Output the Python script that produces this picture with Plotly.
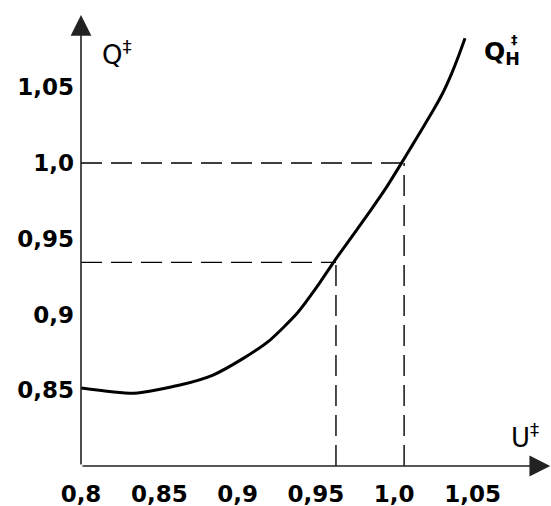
import plotly.graph_objects as go

# Curve Q*_н(U*)
u_vals = [0.800, 0.8338, 0.8632, 0.8843, 0.9036, 0.9207, 0.9377, 0.9505, 0.9622,
          0.9739, 0.9846, 0.9952, 1.0048, 1.0112, 1.0176, 1.0250, 1.0314, 1.0367,
          1.0412, 1.0452]
q_vals = [0.8514, 0.8479, 0.8534, 0.8600, 0.8710, 0.8831, 0.9004, 0.9180, 0.9359,
          0.9527, 0.9683, 0.9843, 1.0003, 1.0112, 1.0222, 1.0350, 1.0471, 1.0592,
          1.0710, 1.0824]

# Guide (dashed) points: (U*, Q*)
guide_u = [0.9628, 1.0063]
guide_q = [0.9344, 1.0]

x_ticks = [0.80, 0.85, 0.90, 0.95, 1.00, 1.05]
x_labels = ["0,8", "0,85", "0,9", "0,95", "1,0", "1,05"]
y_ticks = [0.85, 0.90, 0.95, 1.00, 1.05]
y_labels = ["0,85", "0,9", "0,95", "1,0", "1,05"]

X_RANGE = [0.8, 1.1001]
Y_RANGE = [0.7999, 1.1077]
FONT = "DejaVu Sans"

fig = go.Figure()

fig.add_trace(go.Scatter(x=u_vals, y=q_vals, mode="lines",
                         line=dict(color="black", width=3, shape="spline", smoothing=0.6),
                         hoverinfo="skip", showlegend=False))

dash = dict(color="black", width=1.4, dash="21px,9px")
for gu, gq in zip(guide_u, guide_q):
    fig.add_trace(go.Scatter(x=[X_RANGE[0], gu], y=[gq, gq], mode="lines", line=dash,
                             hoverinfo="skip", showlegend=False))
    fig.add_trace(go.Scatter(x=[gu, gu], y=[Y_RANGE[0], gq], mode="lines", line=dash,
                             hoverinfo="skip", showlegend=False))

# axes with arrows
fig.add_annotation(x=X_RANGE[1] - 0.0005, y=Y_RANGE[0], ax=X_RANGE[0], ay=Y_RANGE[0],
                   xref="x", yref="y", axref="x", ayref="y", text="",
                   showarrow=True, arrowhead=2, arrowsize=2.6, arrowwidth=1.6, arrowcolor="#222")
fig.add_annotation(x=X_RANGE[0], y=1.0978, ax=X_RANGE[0], ay=Y_RANGE[0],
                   xref="x", yref="y", axref="x", ayref="y", text="",
                   showarrow=True, arrowhead=2, arrowsize=2.6, arrowwidth=1.6, arrowcolor="#222")

lab = dict(family=FONT, size=26, color="black")
fig.add_annotation(x=0.8121, y=1.073, xref="x", yref="y", text="Q<sup>‡</sup>",
                   showarrow=False, xanchor="left", yanchor="middle", font=lab)
fig.add_annotation(x=1.0560, y=1.073, xref="x", yref="y", text="Q<sub>Н</sub>",
                   showarrow=False, xanchor="left", yanchor="middle",
                   font=dict(family=FONT, size=25, color="black", weight="bold"))
fig.add_annotation(x=1.0765, y=1.0819, xref="x", yref="y", text="‡",
                   showarrow=False, xanchor="center", yanchor="middle",
                   font=dict(family=FONT, size=13, color="black", weight="bold"))
fig.add_annotation(x=1.0733, y=0.8200, xref="x", yref="y", text="U<sup>‡</sup>",
                   showarrow=False, xanchor="left", yanchor="middle", font=lab)

fig.update_layout(
    width=551, height=506,
    margin=dict(l=81, r=0, t=0, b=40),
    plot_bgcolor="white", paper_bgcolor="white",
    showlegend=False,
    xaxis=dict(range=X_RANGE, showgrid=False, zeroline=False, showline=False,
               tickvals=x_ticks, ticktext=x_labels, ticks="", ticklabelstandoff=12,
               tickfont=dict(family=FONT, size=23, color="black", weight="bold")),
    yaxis=dict(range=Y_RANGE, showgrid=False, zeroline=False, showline=False,
               tickvals=y_ticks, ticktext=y_labels, ticks="", ticklabelstandoff=6,
               tickfont=dict(family=FONT, size=23, color="black", weight="bold")),
)

fig.write_html("out.html", config={"displayModeBar": False},
               post_script="document.body.style.margin='0';document.body.style.overflow='hidden';")
